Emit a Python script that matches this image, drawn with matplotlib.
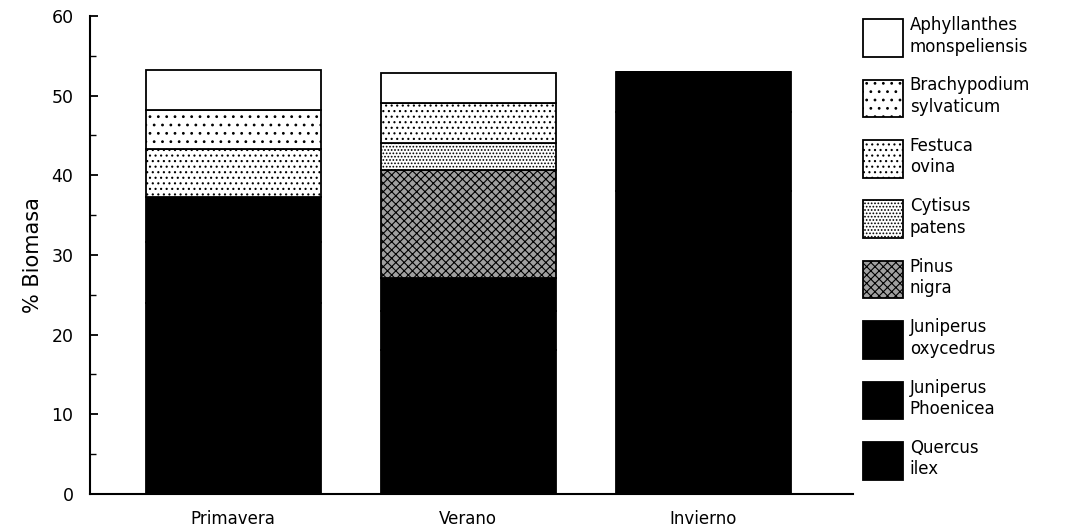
import matplotlib
matplotlib.use('Agg')
import matplotlib.pyplot as plt
import numpy as np
from matplotlib.patches import Patch
from matplotlib.ticker import MultipleLocator

plt.rcParams['font.family'] = ['DejaVu Sans']
plt.rcParams['hatch.linewidth'] = 0.8

estaciones = ['Primavera', 'Verano', 'Invierno']

# % biomasa por especie (de abajo hacia arriba)
especies = ['Quercus\nilex', 'Juniperus\nPhoenicea', 'Juniperus\noxycedrus',
            'Pinus\nnigra', 'Cytisus\npatens', 'Festuca\novina',
            'Brachypodium\nsylvaticum', 'Aphyllanthes\nmonspeliensis']
quercus = [24.0, 18.0, 38.0]
phoenicea = [7.6, 5.0, 10.0]
oxycedrus = [5.7, 4.1, 4.9]
pinus = [0.0, 13.6, 0.0]
cytisus = [0.0, 3.3, 0.0]
festuca = [6.0, 5.1, 0.0]
brachypodium = [4.9, 0.0, 0.0]
aphyllanthes = [5.0, 3.7, 0.0]

series = [quercus, phoenicea, oxycedrus, pinus, cytisus, festuca, brachypodium, aphyllanthes]
faces = ['black', 'black', 'black', '#a0a0a0', 'white', 'white', 'white', 'white']
hatches = [None, None, None, 'xxxx', '.....', '...', '..', None]

fig = plt.figure(figsize=(10.73, 5.31), dpi=100)
ax = fig.add_axes([0.084, 0.07, 0.711, 0.9])

x = np.arange(len(estaciones))
bottom = np.zeros(len(estaciones))
for vals, fc, h in zip(series, faces, hatches):
    vals = np.array(vals)
    ax.bar(x, vals, 0.745, bottom=bottom, color=fc, hatch=h,
           edgecolor='black', linewidth=1.3)
    bottom += vals

ax.set_xlim(-0.609, 2.638)
ax.set_ylim(0, 60)
ax.set_xticks(x)
ax.set_xticklabels(estaciones, fontsize=12)
ax.tick_params(axis='x', length=0, pad=12)
ax.yaxis.set_major_locator(MultipleLocator(10))
ax.yaxis.set_minor_locator(MultipleLocator(5))
ax.tick_params(axis='y', which='major', direction='in', length=6, width=1.3, labelsize=12.5, pad=12)
ax.tick_params(axis='y', which='minor', direction='in', length=4, width=1.0)
ax.set_ylabel('% Biomasa', fontsize=15, labelpad=6)
for s in ['top', 'right']:
    ax.spines[s].set_visible(False)
ax.spines['left'].set_linewidth(1.5)
ax.spines['bottom'].set_linewidth(1.5)

handles = [Patch(facecolor=fc, edgecolor='black', hatch=h, linewidth=1.3)
           for fc, h in zip(faces, hatches)]
leg = fig.legend(handles[::-1], especies[::-1], loc='upper left',
                 bbox_to_anchor=(863 / 1073, 1 - 16 / 531), frameon=False,
                 borderpad=0, borderaxespad=0, handlelength=2.4, handleheight=3.1,
                 handletextpad=0.4, labelspacing=1.18, fontsize=12)
for t in leg.get_texts():
    t.set_linespacing(1.25)

plt.savefig('out.png', dpi=100)
